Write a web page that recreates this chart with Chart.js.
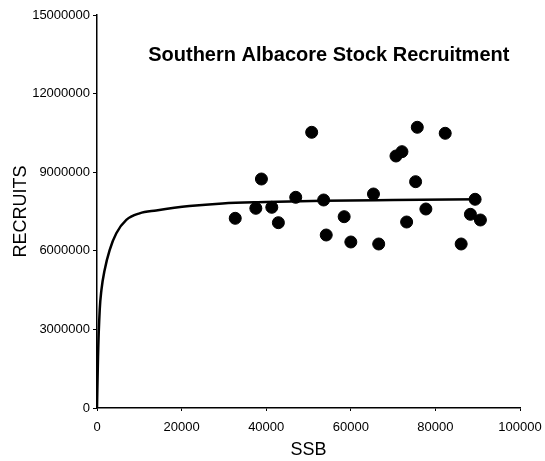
<!DOCTYPE html>
<html>
<head>
<meta charset="utf-8">
<title>Southern Albacore Stock Recruitment</title>
<script src="https://cdn.jsdelivr.net/npm/chart.js@4/dist/chart.umd.min.js"></script>
<style>
    html, body { margin: 0; padding: 0; background: #fff; }
    #wrap { width: 545px; height: 461px; }
</style>
</head>
<body>
<div id="wrap"><canvas id="chart"></canvas></div>
<script>
// Observed spawning stock biomass vs recruits
const ssb = [32680, 37550, 38870, 41320, 42880, 46980, 50750, 53580, 54190, 58430, 60010, 65360,
             66600, 70680, 72090, 73200, 75320, 75720, 77750, 82320, 86090, 88280, 89390, 90640];
const recruits = [7240000, 7622000, 8740000, 7660000, 7073000, 8042000, 10523000, 7939000, 6603000, 7302000, 6336000, 8168000,
                  6260000, 9618000, 9783000, 7099000, 8638000, 10714000, 7595000, 10485000, 6260000, 7393000, 7966000, 7176000];

// Fitted stock-recruitment curve
const fitSsb = [0, 240, 640, 1040, 1810, 2990, 4570, 6930, 10060, 14000, 21840, 29690, 40000, 53580, 70000, 90600];
const fitRecruits = [0, 1960000, 3740000, 4500000, 5270000, 6030000, 6670000, 7180000, 7430000, 7540000, 7710000, 7810000, 7860000, 7910000, 7940000, 7970000];

const xTicks = [0, 20000, 40000, 60000, 80000, 100000];
const yTicks = [0, 3000000, 6000000, 9000000, 12000000, 15000000];

const titleText = 'Southern Albacore Stock Recruitment';

const toPoints = (xs, ys) => xs.map((x, i) => ({ x: x, y: ys[i] }));

// title sits inside the plot area, near the top
const innerTitle = {
    id: 'innerTitle',
    afterDraw(chart) {
        const { ctx, chartArea } = chart;
        ctx.save();
        ctx.font = 'bold 20px "Liberation Sans", Arial, sans-serif';
        ctx.fillStyle = '#000';
        ctx.textAlign = 'center';
        ctx.textBaseline = 'middle';
        ctx.fillText(titleText, chartArea.left + chartArea.width * 0.548, chartArea.top + chartArea.height * 0.102);
        ctx.restore();
    }
};

const tickFont = { family: '"Liberation Sans", Arial, sans-serif', size: 13 };
const axisTitleFont = { family: '"Liberation Sans", Arial, sans-serif', size: 18 };

new Chart(document.getElementById('chart'), {
    type: 'scatter',
    data: {
        datasets: [{
            label: 'Fit',
            data: toPoints(fitSsb, fitRecruits),
            showLine: true,
            borderColor: '#000',
            borderWidth: 2.5,
            pointRadius: 0,
            cubicInterpolationMode: 'monotone',
            fill: false
        }, {
            label: 'Observed',
            data: toPoints(ssb, recruits),
            backgroundColor: '#000',
            borderColor: '#000',
            pointRadius: 6,
            pointHoverRadius: 6
        }]
    },
    plugins: [innerTitle],
    options: {
        responsive: true,
        maintainAspectRatio: false,
        animation: false,
        layout: { padding: { top: 15, right: 0, left: 10, bottom: 0 } },
        plugins: {
            legend: { display: false },
            tooltip: { enabled: false }
        },
        scales: {
            x: {
                type: 'linear',
                min: 0,
                max: 100000,
                afterBuildTicks: (scale) => { scale.ticks = xTicks.map(v => ({ value: v })); },
                afterFit: (scale) => { scale.height = 53; scale.paddingRight = 25; },
                ticks: {
                    color: '#000',
                    font: tickFont,
                    padding: 9,
                    maxRotation: 0,
                    callback: (v) => String(v)
                },
                grid: { drawOnChartArea: false, drawTicks: true, tickLength: 3, color: '#000' },
                border: { display: true, color: '#000', width: 1.5 },
                title: {
                    display: true,
                    text: 'SSB',
                    color: '#000',
                    font: axisTitleFont,
                    padding: { top: 0, bottom: 0 }
                }
            },
            y: {
                type: 'linear',
                min: 0,
                max: 15000000,
                afterBuildTicks: (scale) => { scale.ticks = yTicks.map(v => ({ value: v })); },
                afterFit: (scale) => { scale.width = 87; },
                ticks: {
                    color: '#000',
                    font: tickFont,
                    padding: 3,
                    callback: (v) => String(v)
                },
                grid: { drawOnChartArea: false, drawTicks: true, tickLength: 4, color: '#000' },
                border: { display: true, color: '#000', width: 1.5 },
                title: {
                    display: true,
                    text: 'RECRUITS',
                    color: '#000',
                    font: axisTitleFont,
                    padding: { top: 0, bottom: 4 }
                }
            }
        }
    }
});
</script>
</body>
</html>
